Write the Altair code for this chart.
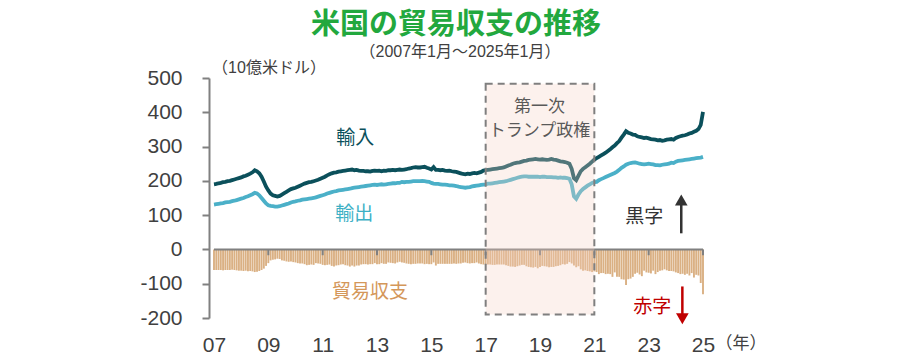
import altair as alt
import pandas as pd

# ---- data (monthly, Jan 2007 - Jan 2025, billions of USD) ----
imports = [
    190, 191, 193, 194, 196, 197, 199, 200, 202, 204, 206, 208,   # 2007
    210, 213, 215, 218, 221, 225, 231, 228, 222, 212, 198, 183,   # 2008
    172, 163, 158, 156, 154, 156, 160, 164, 168, 172, 176, 178,   # 2009
    180, 183, 186, 189, 192, 194, 196, 197, 199, 201, 203, 206,   # 2010
    209, 212, 216, 219, 222, 224, 225, 227, 228, 229, 230, 231,   # 2011
    232, 233, 231, 232, 230, 229, 229, 228, 228, 227, 229, 230,   # 2012
    229, 230, 228, 230, 229, 231, 231, 232, 231, 232, 233, 232,   # 2013
    233, 234, 236, 237, 239, 240, 239, 239, 240, 241, 238, 236,   # 2014
    233, 240, 232, 232, 231, 232, 230, 229, 230, 228, 227, 226,   # 2015
    224, 222, 220, 219, 221, 220, 222, 223, 222, 224, 226, 230,   # 2016
    231, 232, 233, 234, 235, 236, 237, 238, 239, 242, 245, 247,   # 2017
    250, 252, 253, 254, 256, 258, 259, 261, 262, 263, 264, 263,   # 2018
    262, 263, 262, 261, 262, 264, 262, 261, 259, 257, 256, 255,   # 2019
    253, 250, 235, 208, 202, 215, 228, 235, 240, 245, 250, 256,   # 2020
    262, 266, 270, 274, 278, 282, 287, 292, 298, 303, 310, 316,   # 2021
    326, 335, 345, 340, 338, 335, 334, 330, 328, 327, 325, 326,   # 2022
    324, 322, 321, 320, 318, 319, 317, 318, 320, 321, 322, 320,   # 2023
    325, 328, 330, 332, 333, 335, 338, 340, 343, 346, 351, 363,   # 2024
    401,                                                          # 2025
]
exports = [
    131, 132, 133, 134, 135, 137, 138, 139, 141, 142, 144, 146,   # 2007
    148, 150, 153, 155, 158, 161, 165, 163, 158, 150, 142, 134,   # 2008
    129, 127, 126, 125, 125, 126, 128, 130, 132, 134, 137, 139,   # 2009
    140, 142, 143, 145, 146, 147, 148, 149, 150, 152, 154, 156,   # 2010
    158, 160, 163, 165, 167, 169, 170, 172, 173, 174, 175, 176,   # 2011
    177, 179, 180, 181, 182, 183, 184, 185, 186, 187, 188, 189,   # 2012
    188, 189, 190, 189, 190, 191, 192, 193, 193, 194, 194, 197,   # 2013
    196, 197, 197, 198, 199, 199, 199, 199, 200, 199, 198, 197,   # 2014
    194, 192, 191, 191, 190, 189, 189, 188, 187, 187, 186, 185,   # 2015
    183, 182, 181, 180, 181, 182, 184, 185, 186, 187, 188, 189,   # 2016
    190, 192, 192, 193, 194, 195, 196, 197, 198, 199, 201, 203,   # 2017
    205, 207, 209, 211, 212, 213, 213, 212, 212, 212, 212, 212,   # 2018
    211, 212, 212, 211, 211, 211, 210, 210, 209, 210, 209, 209,   # 2019
    208, 206, 190, 155, 148, 160, 170, 176, 181, 186, 190, 194,   # 2020
    196, 197, 202, 205, 208, 211, 214, 217, 220, 223, 227, 232,   # 2021
    238, 242, 247, 250, 252, 253, 254, 252, 250, 249, 248, 249,   # 2022
    250, 249, 248, 246, 246, 245, 247, 248, 249, 250, 253, 252,   # 2023
    256, 258, 259, 260, 261, 262, 263, 264, 265, 266, 267, 268,   # 2024
    270,                                                          # 2025
]
balance = [
    -60, -60, -60, -60, -61, -60, -60, -60, -59, -60, -61, -62,   # 2007
    -62, -63, -62, -64, -63, -64, -66, -65, -63, -60, -56, -48,   # 2008
    -40, -32, -30, -29, -27, -28, -32, -33, -35, -36, -35, -37,   # 2009
    -38, -40, -41, -41, -43, -46, -45, -44, -45, -40, -41, -42,   # 2010
    -45, -46, -45, -44, -48, -50, -47, -46, -44, -43, -46, -47,   # 2011
    -50, -47, -50, -47, -47, -44, -43, -43, -44, -43, -43, -40,   # 2012
    -43, -43, -40, -42, -42, -38, -39, -40, -41, -38, -36, -38,   # 2013
    -39, -41, -42, -43, -42, -42, -41, -41, -41, -43, -42, -43,   # 2014
    -43, -38, -47, -42, -42, -42, -42, -42, -42, -42, -41, -42,   # 2015
    -41, -41, -39, -38, -40, -41, -40, -40, -38, -41, -43, -44,   # 2016
    -45, -44, -44, -45, -45, -44, -44, -44, -44, -46, -48, -50,   # 2017
    -50, -51, -49, -47, -45, -45, -49, -51, -52, -53, -51, -55,   # 2018
    -51, -48, -49, -50, -52, -51, -51, -49, -48, -46, -43, -44,   # 2019
    -42, -37, -41, -47, -52, -49, -58, -62, -61, -63, -64, -66,   # 2020
    -64, -66, -72, -69, -69, -72, -71, -72, -80, -67, -80, -80,   # 2021
    -87, -88, -104, -87, -85, -80, -71, -68, -73, -78, -62, -67,  # 2022
    -68, -70, -62, -72, -66, -62, -61, -58, -61, -63, -63, -64,   # 2023
    -67, -69, -72, -71, -74, -71, -76, -69, -82, -74, -76, -98,   # 2024
    -131,                                                         # 2025
]
tick_years = [2007, 2009, 2011, 2013, 2015, 2017, 2019, 2021, 2023, 2025]
y_ticks = [-200, -100, 0, 100, 200, 300, 400, 500]
trump_term = [2017, 2021]

n = len(imports)
df = pd.DataFrame({
    "t": [2007 + i / 12 for i in range(n)],
    "imports": imports,
    "exports": exports,
    "balance": balance,
})
one = pd.DataFrame({"k": [0]})
ticks_df = pd.DataFrame({"t": tick_years[1:]})

JP = "Noto Sans CJK JP"
NUM = "Liberation Sans, Noto Sans CJK JP"
GRAY = "#808080"
TXT = "#404040"

xs = alt.Scale(domain=[2007, 2025], nice=False, zero=False)
ys = alt.Scale(domain=[-200, 500], nice=False, zero=False)

x_axis = alt.Axis(
    values=tick_years, labelExpr="substring('' + datum.value, 2, 4)",
    labelFontSize=21, labelFont=NUM, labelColor=TXT, labelPadding=16,
    ticks=False, domain=False, grid=False, title=None, labelFlush=False,
    labelOverlap=False)
y_axis = alt.Axis(
    values=y_ticks, tickCount=8, labelExpr="'' + datum.value", labelOverlap=False,
    labelFontSize=21, labelFont=NUM, labelColor=TXT,
    labelPadding=20, tickSize=7, tickColor=GRAY, tickWidth=2,
    domainColor=GRAY, domainWidth=2, grid=False, title=None)

bars = alt.Chart(df).mark_bar(size=1.9, color="#dab083").encode(
    x=alt.X("t:Q", scale=xs, axis=x_axis),
    y=alt.Y("balance:Q", scale=ys, axis=y_axis),
)

line_exp = alt.Chart(df).mark_line(strokeWidth=3.8, color="#4bb0c8").encode(
    x=alt.X("t:Q", axis=x_axis), y=alt.Y("exports:Q", axis=y_axis))
line_imp = alt.Chart(df).mark_line(strokeWidth=3.8, color="#0b505b").encode(
    x=alt.X("t:Q", axis=x_axis), y=alt.Y("imports:Q", axis=y_axis))

zero_line = alt.Chart(one).mark_rule(color=GRAY, strokeWidth=2).encode(
    x=alt.datum(2007), x2=alt.datum(2025), y=alt.datum(0))
zero_ticks = alt.Chart(ticks_df).mark_rule(color=GRAY, strokeWidth=2).encode(
    x=alt.X("t:Q", axis=x_axis), y=alt.datum(0), y2=alt.datum(-17))

shade = alt.Chart(one).mark_rect(color="#f6cfc4", opacity=0.3).encode(
    x=alt.datum(trump_term[0]), x2=alt.datum(trump_term[1]),
    y=alt.datum(-190), y2=alt.datum(483))
border = alt.Chart(one).mark_rect(fillOpacity=0, stroke="#7f7f7f", strokeWidth=2,
                                  strokeDash=[7, 5]).encode(
    x=alt.datum(trump_term[0]), x2=alt.datum(trump_term[1]),
    y=alt.datum(-190), y2=alt.datum(483))


def dtext(s, x, y, size, color, font=JP):
    return alt.Chart(one).mark_text(text=s, fontSize=size, color=color, font=font,
                                    align="center", baseline="middle").encode(
        x=alt.datum(x), y=alt.datum(y))


def ptext(s, x, y, size, color, font=JP, weight="normal"):
    return alt.Chart(one).mark_text(text=s, fontSize=size, color=color, font=font,
                                    fontWeight=weight, align="center",
                                    baseline="middle").encode(
        x=alt.value(x), y=alt.value(y))


labels = [
    dtext("輸入", 2012.2, 326, 19, "#0b505b"),
    dtext("輸出", 2012.16, 102, 19, "#3cb0c5"),
    dtext("貿易収支", 2012.74, -125, 19, "#d4975a"),
    dtext("第一次", 2018.98, 416, 17, "#595959"),
    dtext("トランプ政権", 2018.98, 346, 17, "#595959"),
    dtext("黒字", 2022.84, 96, 19, "#333333"),
    dtext("赤字", 2023.13, -169, 19, "#c00000"),
    ptext("米国の貿易収支の推移", 247, -53, 29, "#22a83e", weight="bold"),
    ptext("（2007年1月～2025年1月）", 251, -26, 16, TXT, font=NUM),
    ptext("（10億米ドル）", 60, -10, 16, TXT, font=NUM),
    ptext("（年）", 532, 266, 17, TXT, font=NUM),
]

up_line = alt.Chart(one).mark_rule(color="#333333", strokeWidth=2.5).encode(
    x=alt.datum(2024.2), y=alt.datum(47), y2=alt.datum(138))
up_head = alt.Chart(one).mark_point(shape="triangle-up", filled=True, size=160,
                                    color="#333333", opacity=1).encode(
    x=alt.datum(2024.2), y=alt.datum(144))
dn_line = alt.Chart(one).mark_rule(color="#c00000", strokeWidth=2.5).encode(
    x=alt.datum(2024.24), y=alt.datum(-108), y2=alt.datum(-196))
dn_head = alt.Chart(one).mark_point(shape="triangle-down", filled=True, size=160,
                                    color="#c00000", opacity=1).encode(
    x=alt.datum(2024.24), y=alt.datum(-202))

chart = alt.layer(
    bars, line_exp, line_imp, zero_line, zero_ticks, shade, border,
    up_line, up_head, dn_line, dn_head, *labels
).properties(
    width=499, height=240,
    autosize=alt.AutoSizeParams(type="none"),
    padding={"left": 201, "top": 70, "right": 80, "bottom": 40},
).configure_view(stroke=None).configure_axis(labelOverlap=False)

chart.save("out.html", embed_options={"renderer": "svg", "actions": False})
